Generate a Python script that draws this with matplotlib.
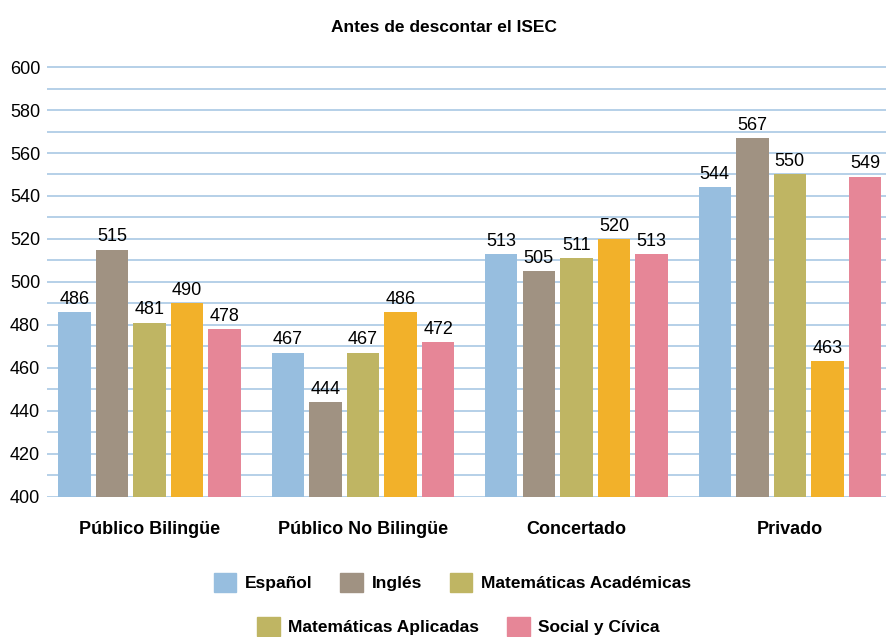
import matplotlib.pyplot as plt
import numpy as np
from matplotlib.patches import Patch
from matplotlib.ticker import MultipleLocator

plt.rcParams['font.family'] = ['Liberation Sans', 'DejaVu Sans']

groups = ['Público Bilingüe', 'Público No Bilingüe', 'Concertado', 'Privado']
series = ['Español', 'Inglés', 'Matemáticas Académicas', 'Matemáticas Aplicadas', 'Social y Cívica']
espanol = [486, 467, 513, 544]
ingles = [515, 444, 505, 567]
mat_acad = [481, 467, 511, 550]
mat_apl = [490, 486, 520, 463]
social = [478, 472, 513, 549]
values = [espanol, ingles, mat_acad, mat_apl, social]

colors = ['#97BEDF', '#A09282', '#BFB563', '#F2B12A', '#E68697']
# the reference legend shows "Matemáticas Aplicadas" with the olive swatch
legend_colors = ['#97BEDF', '#A09282', '#BFB563', '#BFB563', '#E68697']

fig = plt.figure(figsize=(8.87, 6.37), dpi=100)
ax = fig.add_axes([0.053, 0.219, 0.947, 0.677])

x = np.arange(len(groups))
pitch = 0.176
width = 0.152
for i, vals in enumerate(values):
    pos = x + (i - 2) * pitch
    ax.bar(pos, np.array(vals) - 400, width, bottom=400, color=colors[i], zorder=2)
    for xb, v in zip(pos, vals):
        ax.text(xb, v + 2, str(v), ha='center', va='bottom', fontsize=13, zorder=3)

ax.set_ylim(399.6, 600.4)
ax.set_xlim(-0.48, 3.455)
ax.yaxis.set_major_locator(MultipleLocator(20))
ax.yaxis.set_minor_locator(MultipleLocator(10))
ax.grid(axis='y', which='both', color='#A9C8E4', linewidth=1.2, zorder=0)
ax.set_axisbelow(True)
for s in ax.spines.values():
    s.set_visible(False)
ax.tick_params(axis='y', which='both', length=0, labelsize=13, pad=5)
ax.set_xticks(x)
ax.set_xticklabels(groups, fontsize=13, fontweight='bold')
ax.tick_params(axis='x', length=0, pad=17)

fig.text(0.5, 0.957, 'Antes de descontar el ISEC', ha='center', va='center',
         fontsize=12.5, fontweight='bold')

handles = [Patch(color=c) for c in legend_colors]
legend_kw = dict(frameon=False, prop={'weight': 'bold', 'size': 12.5},
                 handlelength=1.3, handleheight=1.3, columnspacing=1.6, handletextpad=0.5)
fig.legend(handles[:3], series[:3], loc='center', bbox_to_anchor=(0.51, 0.086),
           ncol=3, **legend_kw)
fig.legend(handles[3:], series[3:], loc='center', bbox_to_anchor=(0.517, 0.017),
           ncol=2, **legend_kw)

fig.savefig('out.png', dpi=100)
